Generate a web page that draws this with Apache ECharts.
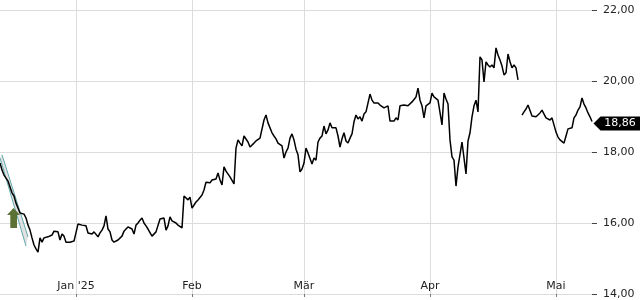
<!DOCTYPE html>
<html>
<head>
<meta charset="utf-8">
<script src="https://cdn.jsdelivr.net/npm/echarts@6/dist/echarts.min.js"></script>
<style>
html,body{margin:0;padding:0;background:#fff;}
#chart{width:640px;height:300px;}
</style>
</head>
<body>
<div id="chart"></div>
<script>
// ---- data ----
const monthLabels = ["Jan '25", "Feb", "Mär", "Apr", "Mai"];
const monthStartIndex = [38, 96, 152, 215, 278];
const yTickValues = [14, 16, 18, 20, 22];
const lastPrice = 18.86;
const prices = [
  17.69,17.49,17.35,17.30,17.18,17.01,16.85,16.76,16.56,16.42,
  16.28,16.23,16.25,16.14,15.94,15.80,15.58,15.38,15.27,15.18,
  15.58,15.46,15.58,15.58,15.61,15.66,15.66,15.77,15.75,15.75,
  15.52,15.69,15.63,15.46,15.44,15.46,15.46,15.49,15.52,15.97,
  15.94,15.94,15.92,15.92,15.72,15.75,15.69,15.75,15.75,15.61,
  15.72,15.80,15.92,16.20,15.83,15.75,15.52,15.46,15.49,15.52,
  15.49,15.63,15.77,15.83,15.89,15.89,15.83,15.69,15.94,16.00,
  16.08,16.14,16.00,15.92,15.83,15.86,15.63,15.63,15.75,15.80,
  16.11,16.06,16.14,15.80,15.92,16.17,16.06,16.03,16.00,15.94,
  15.89,15.86,16.76,16.79,16.65,16.73,16.42,16.45,16.59,16.65,
  16.70,16.79,16.93,17.15,17.18,17.13,17.21,17.18,17.24,17.41,
  17.21,17.07,17.58,17.46,17.49,17.30,17.27,17.10,18.11,18.34,
  18.25,18.17,18.45,18.48,18.28,18.14,18.14,18.25,18.31,18.28,
  18.39,18.34,18.90,19.04,18.82,18.82,18.54,18.45,18.37,18.25,
  18.28,18.17,17.83,18.00,18.11,18.39,18.51,18.34,18.08,17.92,
  17.44,17.52,17.69,18.11,17.97,17.92,17.66,17.83,17.77,18.28,
  18.39,18.45,18.73,18.51,18.62,18.82,18.68,18.70,18.68,18.45,
  18.14,18.37,18.54,18.31,18.25,18.39,18.51,18.85,19.04,18.93,
  18.99,18.87,19.07,19.13,19.18,19.63,19.46,19.38,19.41,19.38,
  19.32,19.35,19.24,19.24,19.30,18.87,18.82,18.87,18.96,18.90,
  19.30,19.35,19.32,19.35,19.30,19.32,19.41,19.46,19.55,19.80,
  19.46,19.30,18.96,19.30,19.35,19.38,19.66,19.55,19.55,19.46,
  19.41,18.76,19.66,19.49,19.35,18.34,17.86,17.77,17.04,17.58,
  17.63,18.28,17.83,17.38,18.31,18.54,18.99,19.30,19.46,19.13,
  20.68,20.59,19.97,20.54,20.45,20.39,20.45,20.37,20.93,20.73,
  20.59,20.42,20.17,20.23,20.76,20.54,20.37,20.45,20.37,20.03,
  null,19.04,19.13,19.21,19.32,19.35,19.01,19.01,18.99,19.04,
  19.10,19.18,19.21,18.96,18.96,18.90,18.96,18.99,18.56,18.42,
  18.34,18.37,18.25,18.45,18.65,18.68,18.68,18.96,19.04,19.18,
  19.27,19.52,19.35,19.24,19.10,18.99,18.86
];
// trend channel (category index, price)
const channelLeft = [[0, 17.83], [13, 15.35]];
const channelRight = [[1, 17.92], [14, 15.61]];
// buy signal arrow (category index, price)
const signalPoint = [7, 16.14];

// ---- build ----
const categories = prices.map((_, i) => {
  const k = monthStartIndex.indexOf(i);
  return k >= 0 ? monthLabels[k] : String(i);
});
const isMonthStart = (i) => monthStartIndex.indexOf(i) >= 0;
const fmt = (v) => v.toFixed(2).replace('.', ',');
const FONT = 'DejaVu Sans';

const chart = echarts.init(document.getElementById('chart'), null, {renderer: 'canvas'});
chart.setOption({
  animation: false,
  backgroundColor: '#fff',
  grid: {left: 0, right: 48, top: 0, bottom: 6, containLabel: false},
  xAxis: {
    type: 'category',
    data: categories,
    boundaryGap: false,
    axisLine: {show: false},
    axisTick: {show: true, inside: false, length: 3, interval: (i) => isMonthStart(i),
      lineStyle: {color: '#777'}},
    axisLabel: {show: true, inside: true, margin: 2, interval: (i) => isMonthStart(i),
      color: '#222', fontSize: 11, fontFamily: FONT},
    splitLine: {show: true, interval: (i) => isMonthStart(i), lineStyle: {color: '#dcdcdc', width: 1}}
  },
  yAxis: {
    type: 'value',
    position: 'right',
    min: 14, max: 22.28, interval: 2,
    axisLine: {show: false},
    axisTick: {show: true, length: 5, lineStyle: {color: '#444'}},
    axisLabel: {
      margin: 11, color: '#222', fontSize: 11, fontFamily: FONT,
      showMaxLabel: false,
      formatter: (v) => yTickValues.indexOf(Math.round(v * 100) / 100) >= 0 ? fmt(v) : ''
    },
    splitLine: {show: true, showMaxLine: false, lineStyle: {color: '#dcdcdc', width: 1}}
  },
  series: [
    {
      type: 'custom',
      z: 1,
      silent: true,
      data: [[0]],
      renderItem: function (params, api) {
        const a0 = api.coord(channelLeft[0]), a1 = api.coord(channelLeft[1]);
        const b0 = api.coord(channelRight[0]), b1 = api.coord(channelRight[1]);
        return {
          type: 'group',
          children: [
            {type: 'polygon', shape: {points: [a0, a1, b1, b0]},
             style: {fill: 'rgba(200,200,200,0.55)'}},
            {type: 'line', shape: {x1: a0[0], y1: a0[1], x2: a1[0], y2: a1[1]},
             style: {stroke: '#62a9ae', lineWidth: 1}},
            {type: 'line', shape: {x1: b0[0], y1: b0[1], x2: b1[0], y2: b1[1]},
             style: {stroke: '#62a9ae', lineWidth: 1}}
          ]
        };
      }
    },
    {
      type: 'line',
      z: 3,
      data: prices,
      showSymbol: false,
      connectNulls: false,
      lineStyle: {color: '#000', width: 1.5},
      itemStyle: {color: '#000'},
      markPoint: {
        silent: true,
        animation: false,
        data: [
          {
            coord: [prices.length - 1, lastPrice],
            value: fmt(lastPrice),
            symbol: 'path://M0,7 L7,0 L47,0 L47,14 L7,14 Z',
            symbolSize: [47, 14],
            symbolKeepAspect: false,
            symbolOffset: [25, 2],
            itemStyle: {color: '#000'},
            label: {show: true, position: 'inside', offset: [3, 0], color: '#fff',
              fontSize: 11, fontFamily: FONT, formatter: fmt(lastPrice)}
          },
          {
            coord: signalPoint,
            symbol: 'path://M6.5,0 L13,7 L10,7 L10,20 L3.3,20 L3.3,7 L0,7 Z',
            symbolSize: [13, 20],
            symbolKeepAspect: false,
            symbolOffset: [-0.5, 0],
            itemStyle: {color: '#5b7234'},
            label: {show: false}
          }
        ]
      }
    }
  ]
});
</script>
</body>
</html>
